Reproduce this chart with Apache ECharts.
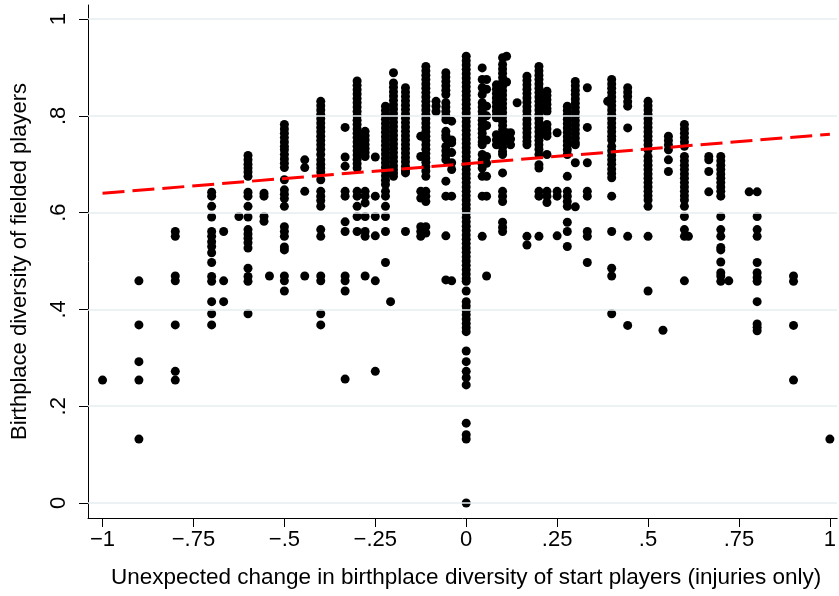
<!DOCTYPE html>
<html>
<head>
<meta charset="utf-8">
<script src="https://cdn.jsdelivr.net/npm/echarts@6/dist/echarts.min.js"></script>
<style>
  html, body { margin: 0; padding: 0; background: #fff; }
  #chart { width: 839px; height: 596px; }
</style>
</head>
<body>
<div id="chart"></div>
<script>
// x position of each column of points (unexpected change in diversity)
var colX = [-1, -0.9, -0.8, -0.7, -0.667, -0.625, -0.6, -0.556, -0.541, -0.5,
  -0.444, -0.4, -0.333, -0.3, -0.278, -0.25, -0.222, -0.208, -0.2, -0.167,
  -0.125, -0.111, -0.083, -0.056, -0.04, 0, 0.044, 0.056, 0.083, 0.1,
  0.111, 0.122, 0.14, 0.167, 0.2, 0.222, 0.25, 0.278, 0.3, 0.333,
  0.389, 0.4, 0.444, 0.5, 0.541, 0.556, 0.6, 0.611, 0.667, 0.7,
  0.722, 0.778, 0.8, 0.9, 1]

// fielded diversity values in each column (same order as colX)
var colY = [
  [0.254],
  [0.459, 0.368, 0.292, 0.254, 0.132],
  [0.561, 0.551, 0.469, 0.459, 0.368, 0.272, 0.254],
  [0.642, 0.634, 0.613, 0.591, 0.561, 0.551, 0.540, 0.530, 0.517, 0.497, 0.468, 0.458, 0.416, 0.391, 0.368],
  [0.561, 0.459, 0.416],
  [0.592],
  [0.718, 0.709, 0.700, 0.692, 0.684, 0.675, 0.642, 0.634, 0.613, 0.591, 0.565, 0.556, 0.547, 0.538, 0.527, 0.485, 0.468, 0.458, 0.391],
  [0.640, 0.634, 0.592, 0.582],
  [0.469],
  [0.782, 0.773, 0.764, 0.755, 0.746, 0.737, 0.730, 0.720, 0.711, 0.702, 0.693, 0.668, 0.647, 0.638, 0.629, 0.613, 0.571, 0.561, 0.551, 0.529, 0.523, 0.469, 0.459, 0.438],
  [0.709, 0.693, 0.644, 0.469],
  [0.830, 0.821, 0.812, 0.803, 0.794, 0.785, 0.776, 0.767, 0.758, 0.749, 0.740, 0.731, 0.720, 0.709, 0.700, 0.692, 0.684, 0.668, 0.644, 0.634, 0.625, 0.613, 0.565, 0.551, 0.469, 0.459, 0.391, 0.368],
  [0.776, 0.715, 0.696, 0.644, 0.634, 0.581, 0.561, 0.469, 0.459, 0.438, 0.256],
  [0.872, 0.863, 0.854, 0.845, 0.836, 0.827, 0.818, 0.809, 0.800, 0.791, 0.782, 0.773, 0.764, 0.755, 0.746, 0.737, 0.728, 0.719, 0.710, 0.701, 0.692, 0.644, 0.634, 0.613, 0.592, 0.561],
  [0.768, 0.759, 0.750, 0.741, 0.732, 0.724, 0.716, 0.644, 0.634, 0.620, 0.592, 0.561, 0.551, 0.469],
  [0.715, 0.634, 0.592, 0.552, 0.459, 0.272],
  [0.820, 0.811, 0.802, 0.793, 0.784, 0.775, 0.766, 0.757, 0.748, 0.739, 0.730, 0.721, 0.712, 0.703, 0.694, 0.685, 0.676, 0.667, 0.658, 0.644, 0.634, 0.613, 0.592, 0.561, 0.497],
  [0.416],
  [0.889, 0.868, 0.859, 0.850, 0.841, 0.832, 0.823, 0.814, 0.805, 0.796, 0.787, 0.778, 0.769, 0.760, 0.751, 0.742, 0.733, 0.724, 0.715, 0.706, 0.697, 0.689, 0.682, 0.675],
  [0.858, 0.849, 0.840, 0.831, 0.822, 0.813, 0.804, 0.795, 0.786, 0.777, 0.768, 0.759, 0.750, 0.741, 0.732, 0.723, 0.714, 0.705, 0.696, 0.687, 0.682, 0.561],
  [0.758, 0.716, 0.644, 0.630, 0.571, 0.561, 0.551],
  [0.902, 0.893, 0.884, 0.875, 0.866, 0.857, 0.848, 0.839, 0.830, 0.821, 0.812, 0.803, 0.794, 0.785, 0.776, 0.767, 0.758, 0.749, 0.740, 0.731, 0.722, 0.713, 0.704, 0.695, 0.686, 0.675, 0.644, 0.634, 0.623, 0.571, 0.558],
  [0.830, 0.820, 0.809],
  [0.889, 0.880, 0.871, 0.862, 0.853, 0.844, 0.827, 0.818, 0.809, 0.800, 0.792, 0.768, 0.760, 0.754, 0.737, 0.728, 0.718, 0.709, 0.665, 0.634, 0.552, 0.461],
  [0.789, 0.750, 0.744, 0.724, 0.703, 0.689, 0.634, 0.459],
  [0.923, 0.914, 0.905, 0.896, 0.887, 0.878, 0.869, 0.860, 0.851, 0.842, 0.833, 0.824, 0.815, 0.806, 0.797, 0.788, 0.779, 0.770, 0.761, 0.752,
   0.743, 0.734, 0.725, 0.716, 0.707, 0.698, 0.689, 0.680, 0.671, 0.662, 0.653, 0.644, 0.635, 0.626, 0.617, 0.608, 0.599, 0.590, 0.581, 0.572,
   0.563, 0.554, 0.545, 0.536, 0.527, 0.518, 0.509, 0.500, 0.491, 0.482, 0.473, 0.464, 0.458, 0.438, 0.416, 0.407, 0.398, 0.389, 0.380, 0.371,
   0.362, 0.354, 0.314, 0.292, 0.272, 0.259, 0.244, 0.165, 0.141, 0.132, 0],
  [0.899, 0.875, 0.858, 0.844, 0.827, 0.818, 0.809, 0.800, 0.791, 0.782, 0.773, 0.764, 0.755, 0.746, 0.740, 0.720, 0.709, 0.700, 0.692, 0.675, 0.634, 0.551],
  [0.875, 0.855, 0.820, 0.800, 0.780, 0.750, 0.716, 0.702, 0.675, 0.634, 0.469],
  [0.864, 0.855, 0.846, 0.837, 0.828, 0.819, 0.810, 0.801, 0.796, 0.761, 0.750, 0.740],
  [0.920, 0.906, 0.897, 0.888, 0.879, 0.870, 0.861, 0.852, 0.843, 0.834, 0.825, 0.816, 0.807, 0.798, 0.789, 0.780, 0.771, 0.762, 0.753, 0.744, 0.735, 0.726, 0.720, 0.682, 0.644, 0.634, 0.623, 0.580, 0.570, 0.561],
  [0.923, 0.870, 0.765, 0.750],
  [0.765, 0.752, 0.740],
  [0.827],
  [0.882, 0.873, 0.864, 0.855, 0.846, 0.837, 0.828, 0.819, 0.810, 0.801, 0.792, 0.783, 0.774, 0.765, 0.756, 0.747, 0.740, 0.551, 0.533],
  [0.902, 0.893, 0.884, 0.875, 0.866, 0.857, 0.848, 0.839, 0.830, 0.821, 0.812, 0.803, 0.794, 0.785, 0.776, 0.767, 0.758, 0.749, 0.740, 0.731, 0.720, 0.699, 0.692, 0.644, 0.634, 0.551],
  [0.851, 0.842, 0.833, 0.824, 0.815, 0.809, 0.782, 0.773, 0.764, 0.758, 0.720, 0.644, 0.634, 0.621],
  [0.765, 0.644, 0.634, 0.552],
  [0.820, 0.811, 0.802, 0.793, 0.784, 0.775, 0.766, 0.757, 0.748, 0.739, 0.730, 0.720, 0.675, 0.644, 0.634, 0.623, 0.613, 0.580, 0.561, 0.530],
  [0.871, 0.862, 0.853, 0.844, 0.835, 0.826, 0.817, 0.808, 0.799, 0.790, 0.781, 0.772, 0.763, 0.754, 0.745, 0.740, 0.703, 0.612],
  [0.858, 0.776, 0.703, 0.644, 0.634, 0.561, 0.551, 0.497],
  [0.830],
  [0.875, 0.866, 0.857, 0.848, 0.839, 0.830, 0.821, 0.812, 0.803, 0.794, 0.785, 0.776, 0.767, 0.758, 0.750, 0.737, 0.728, 0.718, 0.709, 0.700, 0.690, 0.681, 0.672, 0.634, 0.561, 0.485, 0.469, 0.391],
  [0.858, 0.849, 0.840, 0.829, 0.820, 0.775, 0.551, 0.367],
  [0.830, 0.821, 0.812, 0.803, 0.794, 0.785, 0.776, 0.767, 0.758, 0.749, 0.740, 0.730, 0.716, 0.707, 0.698, 0.689, 0.680, 0.671, 0.662, 0.653, 0.644, 0.635, 0.626, 0.613, 0.551, 0.438],
  [0.357],
  [0.758, 0.749, 0.740, 0.730, 0.709, 0.685],
  [0.782, 0.773, 0.764, 0.755, 0.746, 0.737, 0.716, 0.707, 0.698, 0.689, 0.680, 0.671, 0.662, 0.653, 0.644, 0.635, 0.626, 0.613, 0.592, 0.565, 0.551, 0.459],
  [0.551],
  [0.716, 0.709, 0.685, 0.643],
  [0.716, 0.707, 0.698, 0.689, 0.680, 0.671, 0.662, 0.653, 0.644, 0.634, 0.592, 0.565, 0.551, 0.528, 0.523, 0.498, 0.476, 0.469, 0.458],
  [0.459],
  [0.643],
  [0.643, 0.592, 0.565, 0.551, 0.497, 0.476, 0.466, 0.458, 0.416, 0.370, 0.363, 0.356],
  [0.469, 0.458, 0.367, 0.254],
  [0.132]
]

// linear fit (dashed red line)
var fitX = [-1, 1]
var fitY = [0.640, 0.762]

// axis ticks and their labels
var xTickValues = [-1, -0.75, -0.5, -0.25, 0, 0.25, 0.5, 0.75, 1]
var xTickLabels = ['\u22121', '\u2212.75', '\u2212.5', '\u2212.25', '0', '.25', '.5', '.75', '1']
var yTickValues = [0, 0.2, 0.4, 0.6, 0.8, 1]
var yTickLabels = ['0', '.2', '.4', '.6', '.8', '1']

var points = []
colX.forEach(function (x, i) {
  colY[i].forEach(function (y) { points.push([x, y]) })
})
var fitData = fitX.map(function (x, i) { return [x, fitY[i]] })

function lookup(values, labels, v) {
  for (var i = 0; i < values.length; i++) {
    if (Math.abs(values[i] - v) < 1e-6) return labels[i]
  }
  return ''
}

var font = 'Liberation Sans, Arial, sans-serif'
var fs = 22
var chart = echarts.init(document.getElementById('chart'), null, { renderer: 'canvas' })

var option = {
  animation: false,
  backgroundColor: '#fff',
  textStyle: { fontFamily: font },
  grid: { left: 88, right: 0, top: 5, bottom: 78 },
  xAxis: {
    type: 'value',
    min: -1.04,
    max: 1.02,
    name: 'Unexpected change in birthplace diversity of start players (injuries only)',
    nameLocation: 'middle',
    nameGap: 48,
    nameTextStyle: { fontSize: 22.5, color: '#000', fontFamily: font, padding: [0, 0, 0, 7] },
    axisLine: { show: true, onZero: false, lineStyle: { color: '#000', width: 1 } },
    axisTick: { show: true, length: 9, customValues: xTickValues, lineStyle: { color: '#000' } },
    axisLabel: {
      customValues: xTickValues,
      margin: 11,
      fontSize: fs,
      color: '#000',
      fontFamily: font,
      formatter: function (v) { return lookup(xTickValues, xTickLabels, v) }
    },
    splitLine: { show: false }
  },
  yAxis: {
    type: 'value',
    min: -0.031,
    max: 1.029,
    name: 'Birthplace diversity of fielded players',
    nameLocation: 'middle',
    nameGap: 57,
    nameTextStyle: { fontSize: fs, color: '#000', fontFamily: font },
    axisLine: { show: true, onZero: false, lineStyle: { color: '#000', width: 1 } },
    axisTick: { show: true, length: 9, customValues: yTickValues, lineStyle: { color: '#000' } },
    axisLabel: {
      customValues: yTickValues,
      rotate: 90,
      margin: 18,
      fontSize: fs,
      color: '#000',
      fontFamily: font,
      formatter: function (v) { return lookup(yTickValues, yTickLabels, v) }
    },
    splitLine: { show: false }
  },
  series: [
    {
      // horizontal grid lines at the y ticks
      type: 'line',
      data: [],
      silent: true,
      z: 1,
      markLine: {
        silent: true,
        symbol: 'none',
        label: { show: false },
        lineStyle: { color: '#e6eef1', width: 1.5, type: 'solid' },
        data: yTickValues.map(function (v) { return { yAxis: v } })
      }
    },
    {
      type: 'scatter',
      data: points,
      symbol: 'circle',
      symbolSize: 9,
      itemStyle: { color: '#000', opacity: 1 },
      z: 2
    },
    {
      type: 'line',
      data: fitData,
      showSymbol: false,
      symbol: 'none',
      lineStyle: { color: '#ff0000', width: 3, type: [22, 8] },
      z: 3
    }
  ]
}
chart.setOption(option)
</script>
</body>
</html>
